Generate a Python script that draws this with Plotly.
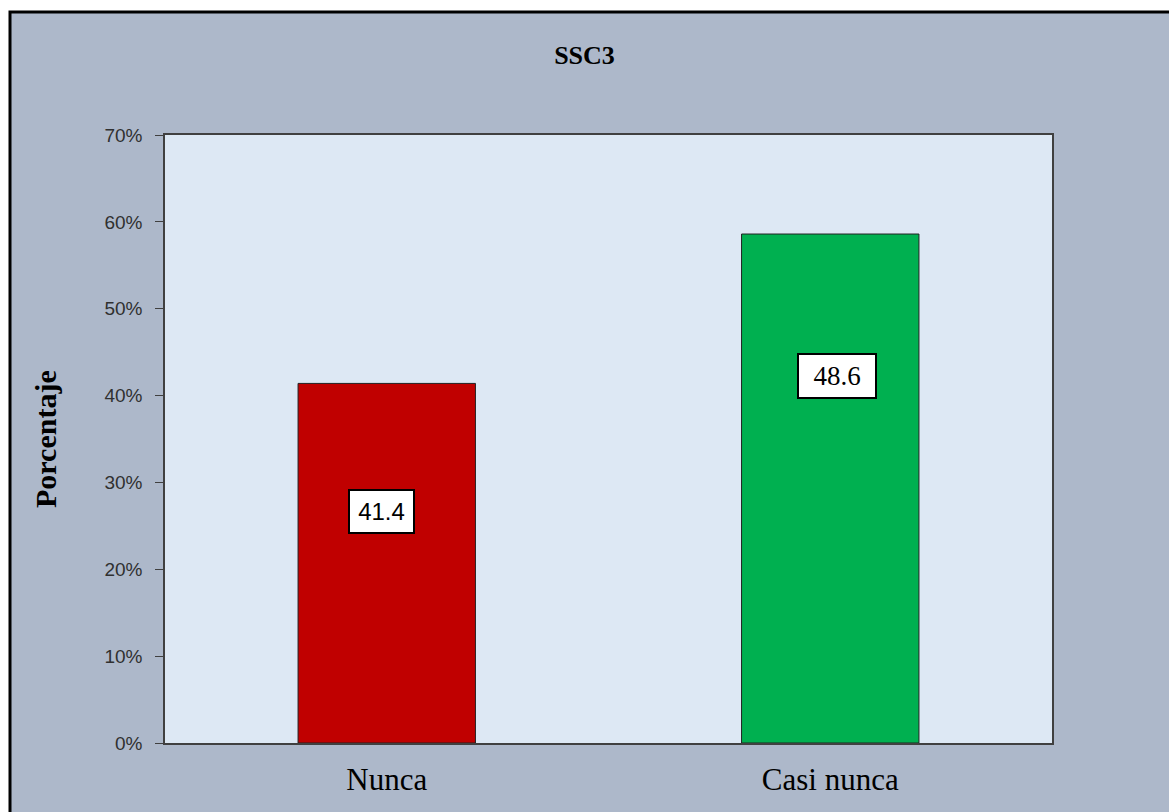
import plotly.graph_objects as go

# data
categorias = ['Nunca', 'Casi nunca']
porcentajes = [41.4, 58.6]          # bar heights (%)
etiquetas = ['41.4', '48.6']        # label text shown in boxes
colores = ['#C00000', '#00B050']
etiqueta_y = [26.7, 42.2]           # where the label boxes sit (%)
y_ticks = [0, 10, 20, 30, 40, 50, 60, 70]

fig = go.Figure()
fig.add_trace(go.Bar(
    x=categorias,
    y=porcentajes,
    marker=dict(color=colores, line=dict(color='#222222', width=1)),
    width=0.4,
    hoverinfo='skip',
))

# outer chart frame
fig.add_shape(type='rect', xref='paper', yref='paper',
              x0=-155 / 887, x1=1.2, y0=-0.2, y1=(743 - 12) / 608,
              fillcolor='#ADB8CA', line=dict(color='black', width=3), layer='below')
# plot area fill (drawn on top of the frame)
fig.add_shape(type='rect', xref='paper', yref='paper', x0=0, x1=1, y0=0, y1=1,
              fillcolor='#DDE8F4', line=dict(width=0), layer='below')

# label boxes
etiqueta_font = [dict(family='Liberation Sans', size=24, color='black'),
                 dict(family='Liberation Serif', size=27, color='black')]
shifts = [-5, 7]
box_w = [59, 72]
box_h = [37, 38]
for cat, txt, yy, f, sh, w, h in zip(categorias, etiquetas, etiqueta_y, etiqueta_font,
                                     shifts, box_w, box_h):
    fig.add_annotation(x=cat, y=yy, text=txt, showarrow=False, font=f,
                       bgcolor='white', bordercolor='black', borderwidth=2,
                       borderpad=2, xshift=sh, width=w, height=h)

# y axis title
fig.add_annotation(xref='paper', yref='paper', x=(45 - 165) / 887, y=0.5,
                   xanchor='center', yanchor='middle',
                   text='<b>Porcentaje</b>', textangle=-90, showarrow=False,
                   font=dict(family='Liberation Serif', size=30, color='black'))

fig.update_layout(
    width=1169, height=812,
    margin=dict(l=165, r=117, t=135, b=69),
    paper_bgcolor='white',
    plot_bgcolor='rgba(0,0,0,0)',
    showlegend=False,
    bargap=0.6,
    title=dict(text='<b>SSC3</b>', x=0.5, xanchor='center', y=1 - 55 / 812, yanchor='middle',
               font=dict(family='Liberation Serif', size=26, color='black')),
)
fig.update_yaxes(
    range=[0, 70], tickvals=y_ticks, ticktext=[f'{v}%' for v in y_ticks],
    showgrid=False, zeroline=False,
    showline=True, mirror=True, linecolor='#404040', linewidth=1.5,
    ticks='outside', ticklen=8, tickcolor='#404040',
    tickfont=dict(family='Liberation Sans', size=19, color='#303030'),
    ticklabelstandoff=9,
)
fig.update_xaxes(
    showgrid=False, showline=True, mirror=True, linecolor='#404040', linewidth=1.5,
    ticks='', tickfont=dict(family='Liberation Serif', size=31, color='black'),
    ticklabelstandoff=8,
)

fig.write_html('out.html', config={'displayModeBar': False},
               post_script="document.body.style.margin='0';")
